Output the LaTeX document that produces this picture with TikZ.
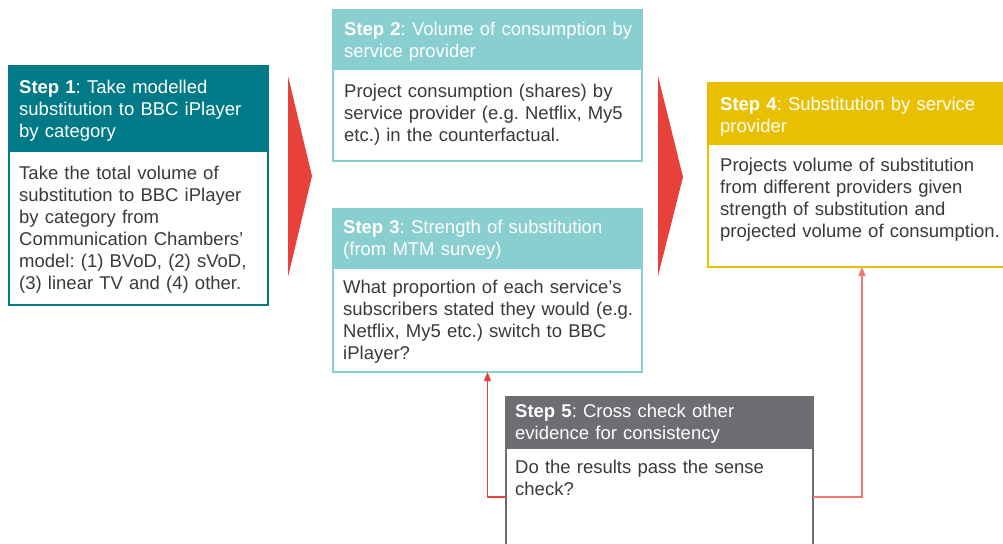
\documentclass[tikz,border=0pt]{standalone}
\usepackage{fontspec}
\setmainfont{Liberation Sans}
\frenchspacing
\usetikzlibrary{arrows.meta}
\definecolor{tealdark}{RGB}{0,122,135}
\definecolor{teallight}{RGB}{138,207,207}
\definecolor{goldc}{RGB}{232,192,0}
\definecolor{grayc}{RGB}{109,110,113}
\definecolor{redc}{RGB}{232,65,58}
\definecolor{pinkc}{RGB}{240,120,115}
\definecolor{bodytext}{RGB}{55,58,62}
\tikzset{
  hdr/.style={draw=#1, fill=#1, line width=1.5pt, inner sep=0pt, outer sep=0pt, anchor=north west},
  bdy/.style={draw=#1, fill=white, line width=1.5pt, inner sep=0pt, outer sep=0pt, anchor=north west},
  htxt/.style={anchor=north west, inner sep=0pt, text width=300pt, align=left, text=white,
    font=\fontsize{18.5}{22}\selectfont\frenchspacing},
  btxt/.style={anchor=north west, inner sep=0pt, text width=300pt, align=left, text=bodytext,
    font=\fontsize{18.5}{22}\selectfont\frenchspacing},
  chev/.style={fill=redc, draw=none},
  conn/.style={draw=#1, line width=1.5pt, -{Triangle[width=7pt,length=9pt]}}
}
\begin{document}
\begin{tikzpicture}[x=1pt,y=-1pt]
\useasboundingbox (0,0) rectangle (1003,543);
% Step 1
\node[hdr=tealdark, minimum width=259pt, minimum height=85pt] (s1h) at (9,66) {};
\node[bdy=tealdark, minimum width=259pt, minimum height=154pt] (s1b) at (9,151) {};
\node[htxt] (s1ht) at (19,77.6) {\strut\textbf{Step 1}: Take modelled\\substitution to BBC iPlayer\\by category};
\node[btxt] (s1bt) at (19,163.6) {\strut Take the total volume of\\substitution to BBC iPlayer\\by category from\\Communication Chambers’\\model: (1) BVoD, (2) sVoD,\\(3) linear TV and (4) other.};
% Step 2
\node[hdr=teallight, minimum width=309pt, minimum height=59pt] (s2h) at (333,10) {};
\node[bdy=teallight, minimum width=309pt, minimum height=92pt] (s2b) at (333,69) {};
\node[htxt] (s2ht) at (344,19.6) {\strut\textbf{Step 2}: Volume of consumption by\\service provider};
\node[btxt] (s2bt) at (344,81.6) {\strut Project consumption (shares) by\\service provider (e.g. Netflix, My5\\etc.) in the counterfactual.};
% Step 3
\node[hdr=teallight, minimum width=309pt, minimum height=59pt] (s3h) at (333,209) {};
\node[bdy=teallight, minimum width=309pt, minimum height=104pt] (s3b) at (333,268) {};
\node[htxt] (s3ht) at (343,217.6) {\strut\textbf{Step 3}: Strength of substitution\\(from MTM survey)};
\node[btxt] (s3bt) at (343,277.6) {\strut What proportion of each service’s\\subscribers stated they would (e.g.\\Netflix, My5 etc.) switch to BBC\\iPlayer?};
% Step 4
\node[hdr=goldc, minimum width=308pt, minimum height=61pt] (s4h) at (708,83) {};
\node[bdy=goldc, minimum width=308pt, minimum height=123pt] (s4b) at (708,144) {};
\node[htxt] (s4ht) at (720,94.6) {\strut\textbf{Step 4}: Substitution by service\\provider};
\node[btxt] (s4bt) at (720,155.6) {\strut Projects volume of substitution\\from different providers given\\strength of substitution and\\projected volume of consumption.};
% Step 5
\node[hdr=grayc, minimum width=307pt, minimum height=51pt] (s5h) at (506,397) {};
\node[bdy=grayc, minimum width=307pt, minimum height=98pt] (s5b) at (506,448) {};
\node[htxt] (s5ht) at (515,401.6) {\strut\textbf{Step 5}: Cross check other\\evidence for consistency};
\node[btxt] (s5bt) at (515,457.6) {\strut Do the results pass the sense\\check?};
% red chevrons
\fill[chev] (288,76) -- (312,176) -- (288,277) -- cycle;
\fill[chev] (658,76) -- (683,177) -- (658,276) -- cycle;
% connectors
\draw[conn=redc] (s5b.west) -| (s3b.south);
\draw[conn=pinkc] (s5b.east) -| (s4b.south);
\end{tikzpicture}
\end{document}
